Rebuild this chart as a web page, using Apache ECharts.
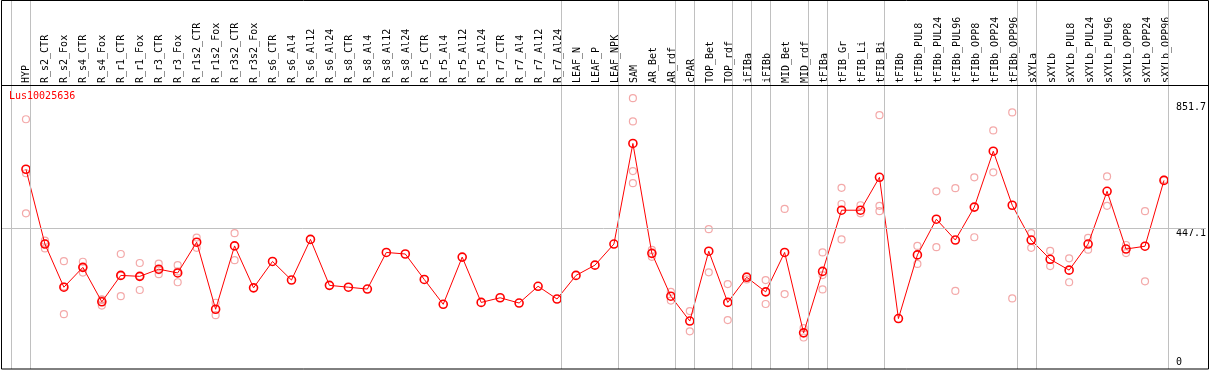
<!DOCTYPE html>
<html>
<head>
<meta charset="utf-8">
<script src="https://cdn.jsdelivr.net/npm/echarts@6/dist/echarts.min.js"></script>
<style>
html,body{margin:0;padding:0;background:#fff;}
#chart{width:1209px;height:370px;}
</style>
</head>
<body>
<div id="chart"></div>
<script>
const geneId = 'Lus10025636';
const categories = ['HYP','R_s2_CTR','R_s2_Fox','R_s4_CTR','R_s4_Fox','R_r1_CTR','R_r1_Fox','R_r3_CTR','R_r3_Fox','R_r1s2_CTR','R_r1s2_Fox','R_r3s2_CTR','R_r3s2_Fox','R_s6_CTR','R_s6_Al4','R_s6_Al12','R_s6_Al24','R_s8_CTR','R_s8_Al4','R_s8_Al12','R_s8_Al24','R_r5_CTR','R_r5_Al4','R_r5_Al12','R_r5_Al24','R_r7_CTR','R_r7_Al4','R_r7_Al12','R_r7_Al24','LEAF_N','LEAF_P','LEAF_NPK','SAM','AR_Bet','AR_rdf','cPAR','TOP_Bet','TOP_rdf','iFIBa','iFIBb','MID_Bet','MID_rdf','tFIBa','tFIB_Gr','tFIB_Li','tFIB_Bi','tFIBb','tFIBb_PUL8','tFIBb_PUL24','tFIBb_PUL96','tFIBb_OPP8','tFIBb_OPP24','tFIBb_OPP96','sXYLa','sXYLb','sXYLb_PUL8','sXYLb_PUL24','sXYLb_PUL96','sXYLb_OPP8','sXYLb_OPP24','sXYLb_OPP96'];
const means = [637,396,257,321,210,295,292,315,303,402,186,390,255,340,280,411,263,257,251,369,364,282,202,354,208,223,206,260,219,295,328,396,720,366,228,148,373,208,289,242,369,110,308,505,505,611,156,361,476,409,515,695,521,409,347,312,396,566,380,389,601];
const replicates = [
  [798,624,495],[407,382,398],[341,170,259],[339,304,321],[198,216,218],[364,228,294],[335,248,293],[333,299,312],[328,273,308],[417,384],[207,167],[431,344],
  [],[],[],[],[],[],[],[],[],[],[],[],[],[],[],[],[],[],[],[],
  [866,791,631,592],[377,355],[242,214],[180,115],[444,305],[267,151],[293,282],[280,203],[509,235],[125,95],[369,250,296],[577,525,411],[521,495],[811,519,502],[],
  [390,332],[566,386],[576,245],[611,418],[762,627],[820,221],[431,384],[374,325],[350,273],[416,378],[614,519],[393,367],[502,276],[604]
];
const yTickLabels = [0, 447.1, 851.7];
const groupEnds = [0, 28, 31, 34, 35, 37, 38, 39, 41, 42, 45, 52, 53, 60];

// layout
const X_MIN = -25/19, X_MAX = X_MIN + 1207/19;
const K = 3.221;
const Y_MIN = -2*K, Y_MAX = 367*K;
const FONT = 'DejaVu Sans Mono';

const repData = [];
replicates.forEach((arr, i) => arr.forEach(v => repData.push([i, v])));
const meanData = means.map((v, i) => [i, v]);

const sepLines = [{xAxis: -0.8}].concat(groupEnds.map(i => ({xAxis: i + 4.5/19})));
sepLines.push({yAxis: yTickLabels[1]});

const chart = echarts.init(document.getElementById('chart'));
chart.setOption({
  animation: false,
  backgroundColor: '#fff',
  title: {text: geneId, left: 9, top: 91, padding: 0,
    textStyle: {color: '#ff0000', fontSize: 10, fontWeight: 'normal', fontFamily: FONT}},
  grid: [
    {left: 1, right: 1, top: 0, bottom: 1},
    {left: 16.5, right: 33.5, top: 85, bottom: 1}
  ],
  xAxis: [
    {gridIndex: 0, type: 'value', min: X_MIN, max: X_MAX, show: false},
    {gridIndex: 1, type: 'category', data: categories, position: 'top',
      axisLine: {show: false}, axisTick: {show: false}, splitLine: {show: false},
      axisLabel: {rotate: 90, interval: 0, margin: 2, fontSize: 10, fontFamily: FONT, color: '#000'}}
  ],
  yAxis: [
    {gridIndex: 0, type: 'value', min: Y_MIN, max: Y_MAX, show: false},
    {gridIndex: 0, type: 'value', min: Y_MIN, max: Y_MAX, position: 'right', offset: -30,
      axisLine: {show: false}, axisTick: {show: false}, splitLine: {show: false},
      axisLabel: {customValues: yTickLabels.slice(1), margin: 0, align: 'left', verticalAlign: 'top',
        fontSize: 10, fontFamily: FONT, color: '#000'}},
    {gridIndex: 0, type: 'value', min: Y_MIN, max: Y_MAX, position: 'right', offset: -30,
      axisLine: {show: false}, axisTick: {show: false}, splitLine: {show: false},
      axisLabel: {customValues: yTickLabels.slice(0, 1), margin: 0, align: 'left', verticalAlign: 'bottom',
        fontSize: 10, fontFamily: FONT, color: '#000'}},
    {gridIndex: 1, type: 'value', show: false}
  ],
  series: [
    {type: 'scatter', xAxisIndex: 0, yAxisIndex: 0, data: repData, z: 2, silent: true,
      symbol: 'circle', symbolSize: 7,
      itemStyle: {color: 'rgba(0,0,0,0)', borderColor: '#f09494', borderWidth: 1.2},
      markLine: {silent: true, symbol: ['none', 'none'], label: {show: false},
        lineStyle: {color: '#c0c0c0', width: 1, type: 'solid'}, data: sepLines}},
    {type: 'line', xAxisIndex: 0, yAxisIndex: 0, data: meanData, z: 3, silent: true,
      symbol: 'circle', symbolSize: 8, showAllSymbol: true,
      lineStyle: {color: '#ff0000', width: 1},
      itemStyle: {color: 'rgba(0,0,0,0)', borderColor: '#ff0000', borderWidth: 1.6}}
  ],
  graphic: [
    {type: 'rect', z: 100, silent: true, shape: {x: 1.5, y: 0.5, width: 1207, height: 368.5},
      style: {fill: 'none', stroke: '#000', lineWidth: 1}},
    {type: 'line', z: 100, silent: true, shape: {x1: 1, y1: 85.5, x2: 1209, y2: 85.5},
      style: {stroke: '#000', lineWidth: 1}}
  ]
});
</script>
</body>
</html>
